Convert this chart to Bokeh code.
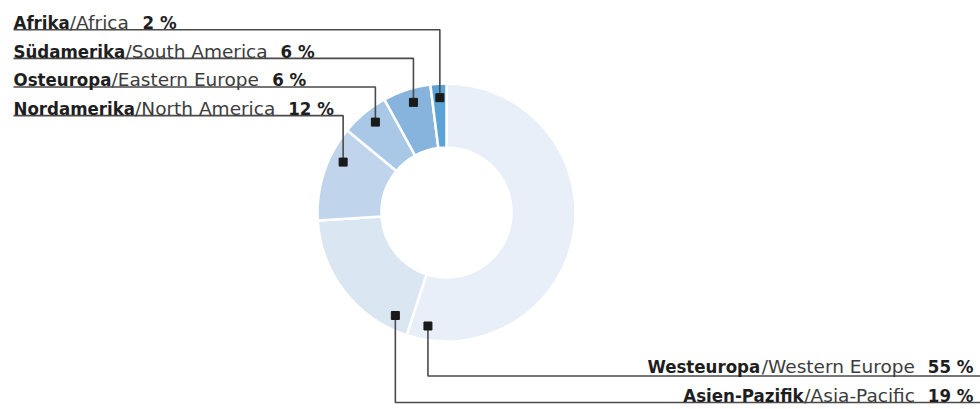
import math
from bokeh.plotting import figure
from bokeh.models import Range1d, ColumnDataSource
from bokeh.core.properties import value
from bokeh.embed import file_html
from bokeh.resources import INLINE

# ---------------- data ----------------
names_de = ["Westeuropa", "Asien-Pazifik", "Nordamerika", "Osteuropa", "Südamerika", "Afrika"]
names_en = ["Western Europe", "Asia-Pacific", "North America", "Eastern Europe", "South America", "Africa"]
shares = [55, 19, 12, 6, 6, 2]
slice_colors = ["#e9eff8", "#dbe6f3", "#c0d5ec", "#a9c7e6", "#87b4dd", "#5ba3d6"]

# ---------------- layout ----------------
W, H = 980, 409
cx, cy = 446, 212          # donut centre (px from top-left)
R_OUT, R_IN, R_MARK = 129, 65, 115
marker_frac = [0.956, 0.123, 0.685, 0.565, 0.56, 0.54]   # where the pointer sits inside each slice

FS_B = 18.5
FS_R = 18.5
BOLD_FONT = "DejaVu Sans Condensed"
REG_FONT = "DejaVu Sans"

REG = {' ': 651, '%': 1946, '-': 739, '/': 690, 'A': 1401, 'E': 1264, 'N': 1532, 'P': 1235,
       'S': 1300, 'W': 2025, 'a': 1255, 'c': 1126, 'd': 1300, 'e': 1260, 'f': 721, 'h': 1298,
       'i': 569, 'k': 1186, 'l': 569, 'm': 1995, 'n': 1298, 'o': 1253, 'p': 1300, 'r': 842,
       's': 1067, 't': 803, 'u': 1298, 'y': 1212}
BLD = {' ': 713, '%': 2052, '-': 849, '/': 751, 'A': 1585, 'N': 1713, 'O': 1743, 'P': 1503,
       'S': 1479, 'W': 2264, 'a': 1382, 'c': 1214, 'd': 1466, 'e': 1389, 'f': 891, 'h': 1458,
       'i': 702, 'k': 1362, 'l': 702, 'm': 2134, 'n': 1458, 'o': 1407, 'p': 1466, 'r': 1010,
       's': 1219, 't': 979, 'u': 1458, 'ü': 1458, 'z': 1186}
for d in "0123456789":
    REG[d] = 1303
    BLD[d] = 1425


def w_reg(s):
    return sum(REG.get(c, 1200) for c in s) / 2048 * FS_R


def w_bold(s):
    return sum(BLD.get(c, 1350) for c in s) / 2048 * FS_B * 0.9


def X(x):
    return x


def Y(y):
    return H - y


p = figure(width=W, height=H, x_range=Range1d(0, W), y_range=Range1d(0, H),
           x_axis_type=None, y_axis_type=None, toolbar_location=None, output_backend="svg",
           min_border=0, min_border_left=0, min_border_right=0, min_border_top=0, min_border_bottom=0)
p.outline_line_color = None
p.background_fill_color = "white"
p.border_fill_color = "white"
p.xgrid.visible = False
p.ygrid.visible = False

# ---------------- slices ----------------
total = float(sum(shares))
cum = [0.0]
for s in shares:
    cum.append(cum[-1] + s / total)
starts = [math.pi / 2 - 2 * math.pi * cum[i] for i in range(len(shares))]
ends = [math.pi / 2 - 2 * math.pi * cum[i + 1] for i in range(len(shares))]
wsrc = ColumnDataSource(dict(x=[X(cx)] * len(shares), y=[Y(cy)] * len(shares), start=starts, end=ends,
                             color=slice_colors))
p.annular_wedge(x="x", y="y", inner_radius=R_IN, outer_radius=R_OUT, start_angle="start", end_angle="end",
                direction="clock", fill_color="color", line_color="white", line_width=2.5, source=wsrc)

# marker positions
mx, my = [], []
for i in range(len(shares)):
    th = 2 * math.pi * (cum[i] + marker_frac[i] * (cum[i + 1] - cum[i]))
    mx.append(cx + R_MARK * math.sin(th))
    my.append(cy - R_MARK * math.cos(th))

# ---------------- labels ----------------
LEFT_X = 13
RIGHT_X = 973
GAP = 13
rows_top = [5, 4, 3, 2]        # Afrika, Südamerika, Osteuropa, Nordamerika
rows_bottom = [0, 1]           # Westeuropa, Asien-Pazifik
top_base = [22 + 28.6 * k for k in range(len(rows_top))]
bottom_base = [366, 395]
bottom_line = [375.5, 402]

bx, by, bt, rx, ry, rt, balign, ralign = [], [], [], [], [], [], [], []
lines_x, lines_y = [], []

for k, i in enumerate(rows_top):
    base = top_base[k]
    pct = f"{shares[i]} %"
    reg = "/" + names_en[i]
    x0 = LEFT_X
    bx.append(x0); by.append(base); bt.append(names_de[i]); balign.append("left")
    x1 = x0 + w_bold(names_de[i])
    rx.append(x1); ry.append(base); rt.append(reg); ralign.append("left")
    x2 = x1 + w_reg(reg) + GAP
    bx.append(x2); by.append(base); bt.append(pct); balign.append("left")
    ly = base + 7.3
    lines_x.append([LEFT_X, mx[i], mx[i]])
    lines_y.append([ly, ly, my[i]])

for k, i in enumerate(rows_bottom):
    base = bottom_base[k]
    pct = f"{shares[i]} %"
    reg = "/" + names_en[i]
    bx.append(RIGHT_X); by.append(base); bt.append(pct); balign.append("right")
    x1 = RIGHT_X - w_bold(pct) - GAP
    rx.append(x1); ry.append(base); rt.append(reg); ralign.append("right")
    x2 = x1 - w_reg(reg)
    bx.append(x2); by.append(base); bt.append(names_de[i]); balign.append("right")
    ly = bottom_line[k]
    lines_x.append([mx[i], mx[i], W])
    lines_y.append([my[i], ly, ly])

p.multi_line(xs=[[X(v) for v in xs] for xs in lines_x], ys=[[Y(v) for v in ys] for ys in lines_y],
             line_color="#4a4a4a", line_width=1.6)

p.scatter(x=[X(v) for v in mx], y=[Y(v) for v in my], marker="square", size=8,
          fill_color="#1a1a1a", line_color="#1a1a1a")

bsrc = ColumnDataSource(dict(x=[X(v) for v in bx], y=[Y(v) for v in by], text=bt, align=balign))
rsrc = ColumnDataSource(dict(x=[X(v) for v in rx], y=[Y(v) for v in ry], text=rt, align=ralign))
p.text(x="x", y="y", text="text", text_align="align", text_baseline="alphabetic", source=bsrc,
       text_font=value(BOLD_FONT), text_font_style="bold", text_font_size=f"{FS_B}px", text_color="#1e1e1e")
p.text(x="x", y="y", text="text", text_align="align", text_baseline="alphabetic", source=rsrc,
       text_font=value(REG_FONT), text_font_style="normal", text_font_size=f"{FS_R}px", text_color="#3c3c3c")

open("out.html", "w").write(file_html(p, INLINE))
